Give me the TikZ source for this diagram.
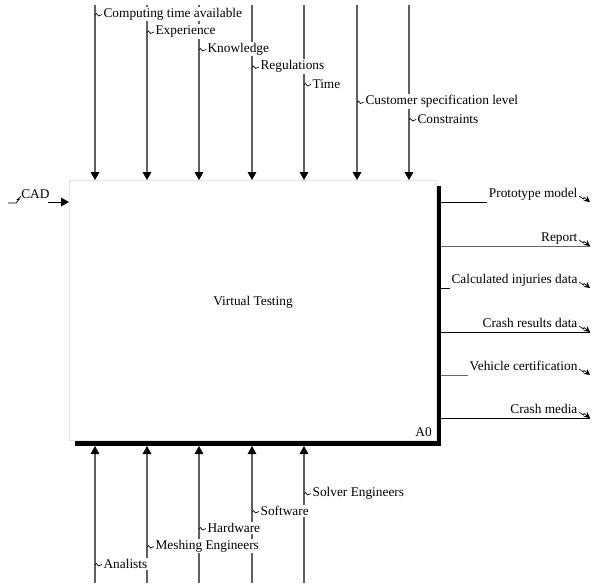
\documentclass[tikz,border=0pt]{standalone}
\usepackage{fontspec}
\setmainfont{Liberation Serif}
\usetikzlibrary{positioning,arrows.meta}

\tikzset{
    ctrl/.style={draw=gray!75!black, line width=0.8pt},
    ctrltip/.style={-{Triangle[length=6pt,width=6.5pt,color=black]}},
    outtip/.style={-{Stealth[length=4.5pt,width=4.5pt,color=black]}},
    lbl/.style={fill=white, inner sep=1pt},
    squig/.pic={\draw[black, line width=0.5pt] (0,0) -- ++(1.5,-1.5) -- ++(2,2.5) -- ++(3.5,-1.5);}
}

\begin{document}
\begin{tikzpicture}[x=0.75pt, y=-0.75pt]
    \useasboundingbox (0,0) rectangle (592,583);

    % Activity box with its shadow
    \node[fill=black, minimum width=275pt, minimum height=195pt, inner sep=0pt, outer sep=0pt] (shadow) at (258,316) {};
    \node[draw=gray!20, fill=white, minimum width=275.25pt, minimum height=195pt, inner sep=0pt, outer sep=0pt] (A0box) at (252.5,310) {};
    \node (title) at (253,302) {Virtual Testing};
    \node[anchor=base east, inner sep=0pt] (num) at (432,436) {A0};

    % Controls from above
    \foreach \x [count=\i] in {95,147,199,252,304,357,409} {
        \coordinate (c\i) at (\x,5);
        \draw[ctrl, ctrltip] (c\i) -- (A0box.north -| c\i);
    }
    \foreach \x/\y/\txt [count=\i] in {95/14/Computing time available, 147/31.5/Experience, 199/49/Knowledge, 252/66.5/Regulations, 304/84/Time, 357/101.5/Customer specification level, 409/119/Constraints} {
        \node[lbl, anchor=west] (ctl\i) at (\x+7,\y) {\txt};
        \pic at (\x,\y+1) {squig};
    }

    % Mechanisms from below
    \foreach \x [count=\i] in {95,147,199,252,304} {
        \coordinate (m\i) at (\x,583);
        \draw[ctrl, ctrltip] (m\i) -- (shadow.south -| m\i);
    }
    \foreach \x/\y/\txt [count=\i] in {304/493/Solver Engineers, 252/511/Software, 199/528/Hardware, 147/546/Meshing Engineers, 95/564/Analists} {
        \node[lbl, anchor=west] (mech\i) at (\x+7,\y) {\txt};
        \pic at (\x,\y+1) {squig};
    }

    % Input
    \coordinate (cadin) at (8,203);
    \coordinate (cadout) at (48,202);
    \node[anchor=base west, inner sep=0pt] (cad) at (21,198) {CAD};
    \draw[line width=0.6pt] (cadin) -- (16,203) -- (19,199.5) -- (17.5,199.5) -- (21,196.5);
    \draw[line width=0.7pt, ctrltip] (cadout) -- (A0box.west |- cadout);

    % Outputs to the right
    \foreach \y/\txt/\cut/\col [count=\i] in {202/Prototype model/1/black, 246/Report/0/gray!80!black, 288/Calculated injuries data/1/black, 332/Crash results data/0/black, 375/Vehicle certification/1/gray!80!black, 418/Crash media/0/black} {
        \coordinate (o\i) at (590,\y);
        \node[lbl, anchor=base east] (out\i) at (579,\y-5) {\txt};
        \ifnum\cut=1
            \draw[\col, line width=0.7pt] (shadow.east |- o\i) -- (o\i -| out\i.west);
        \else
            \draw[\col, line width=0.7pt] (shadow.east |- o\i) -- (o\i);
        \fi
        \draw[line width=0.5pt, outtip] (579,\y-6) -- (583.5,\y-3) -- (584,\y-4.5) -- (o\i);
    }
\end{tikzpicture}
\end{document}
